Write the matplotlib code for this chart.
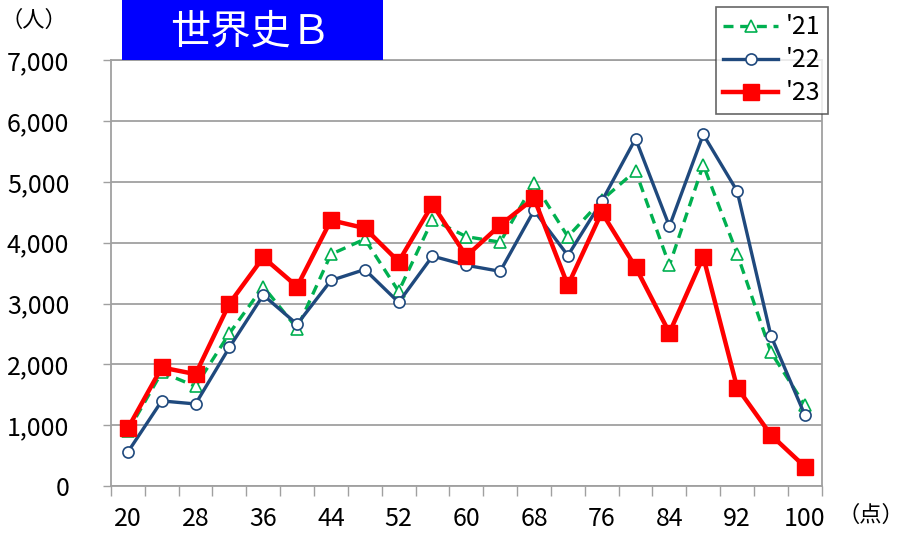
import matplotlib
matplotlib.use("Agg")
import matplotlib.pyplot as plt
from matplotlib.patches import Rectangle
from matplotlib.ticker import FuncFormatter

plt.rcParams["font.family"] = ["Noto Sans CJK JP", "DejaVu Sans"]

scores = [20, 24, 28, 32, 36, 40, 44, 48, 52, 56, 60, 64, 68, 72, 76, 80, 84, 88, 92, 96, 100]
y21 = [900, 1870, 1640, 2510, 3280, 2590, 3810, 4060, 3200, 4380, 4100, 4010,
       4980, 4100, 4700, 5180, 3630, 5280, 3820, 2200, 1330]
y22 = [560, 1400, 1350, 2280, 3140, 2660, 3380, 3560, 3020, 3780, 3630, 3530,
       4530, 3790, 4680, 5710, 4270, 5780, 4850, 2470, 1170]
y23 = [950, 1950, 1840, 3000, 3760, 3280, 4370, 4240, 3690, 4630, 3780, 4290,
       4730, 3300, 4500, 3600, 2520, 3770, 1620, 840, 320]
label_scores = scores[::2]

gray = "#a0a0a0"

fig = plt.figure(figsize=(9.02, 5.33), dpi=100)
ax = fig.add_axes([0.123, 0.088, 0.788, 0.799])

x = list(range(len(scores)))
ax.plot(x, y21, color="#00b050", linestyle=(0, (3, 2)), linewidth=2.4,
        marker="^", markersize=8, markerfacecolor="white",
        markeredgecolor="#00b050", markeredgewidth=1.2, label="'21", zorder=3)
ax.plot(x, y22, color="#1f497d", linewidth=2.4,
        marker="o", markersize=8, markerfacecolor="white",
        markeredgecolor="#1f497d", markeredgewidth=1.2, label="'22", zorder=4)
ax.plot(x, y23, color="#ff0000", linewidth=3.2,
        marker="s", markersize=12, markerfacecolor="#ff0000",
        markeredgecolor="#ff0000", label="'23", zorder=5)

ax.set_xlim(-0.5, len(scores) - 0.5)
ax.set_ylim(0, 7000)
ax.set_yticks(range(0, 7001, 1000))
ax.yaxis.set_major_formatter(FuncFormatter(lambda v, p: f"{int(v):,}"))
ax.grid(axis="y", color=gray, linewidth=1.3)
ax.set_axisbelow(True)

ax.set_xticks([i - 0.5 for i in range(len(scores) + 1)])
ax.set_xticklabels([])
ax.set_xticks(x[::2], minor=True)
ax.set_xticklabels([str(s) for s in label_scores], minor=True)
ax.tick_params(axis="x", which="major", length=7, color=gray, width=1)
ax.tick_params(axis="x", which="minor", length=0, pad=14, labelsize=18)
ax.tick_params(axis="y", length=6, color=gray, width=1, pad=24, labelsize=18)

for s in ax.spines.values():
    s.set_color(gray)
    s.set_linewidth(1.3)

leg = fig.legend(loc="upper right", bbox_to_anchor=(0.918, 0.987), fontsize=18,
                 frameon=True, fancybox=False, edgecolor="#404040",
                 handlelength=2.2, handletextpad=0.3, borderpad=0.3,
                 labelspacing=0.28, borderaxespad=0)
leg.get_frame().set_linewidth(1.2)

fig.patches.append(Rectangle((0.135, 0.887), 0.29, 0.113, transform=fig.transFigure,
                             facecolor="#0000ff", edgecolor="none"))
fig.text(0.278, 0.94, "世界史Ｂ", color="white", fontsize=29, ha="center", va="center")
fig.text(0.038, 0.962, "（人）", fontsize=16, ha="center", va="center")
fig.text(0.965, 0.033, "（点）", fontsize=16, ha="center", va="center")

fig.savefig("out.png", dpi=100)
